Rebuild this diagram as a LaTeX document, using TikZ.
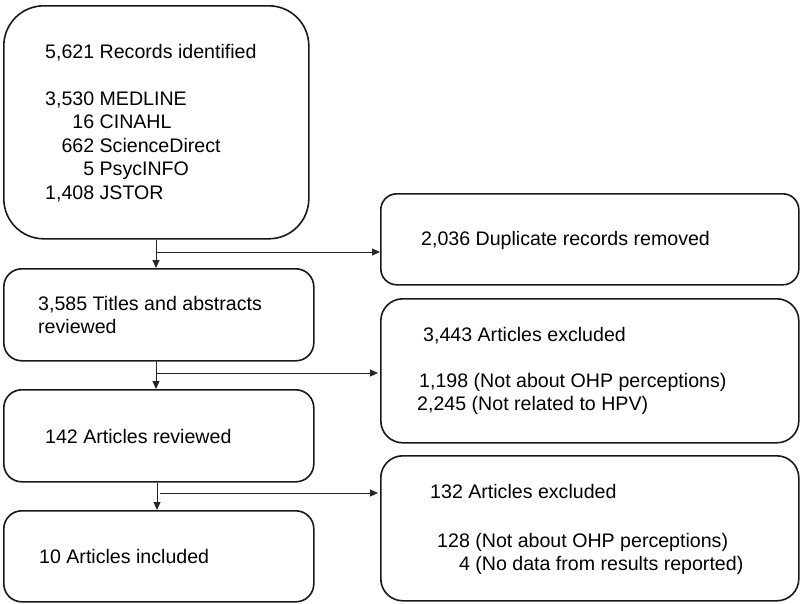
\documentclass[tikz,border=0pt]{standalone}
\usepackage{fontspec}
\setmainfont{Liberation Sans}
\usetikzlibrary{arrows.meta,calc}
\begin{document}
\begin{tikzpicture}[x=1pt,y=-1pt,
  box/.style={draw=black!90,line width=1.6pt,anchor=north west,inner sep=0pt,fill=white},
  txt/.style={anchor=base west,inner sep=0pt,font=\fontsize{19.6}{23.5}\selectfont,text=black},
  conn/.style={draw=black!85,line width=1pt},
  arr/.style={conn,-{Triangle[length=8pt,width=7pt]}}]
\useasboundingbox (0,0) rectangle (800,603);
% left column boxes
\node[box,rounded corners=40pt,minimum width=305pt,minimum height=233pt] (b1) at (3,5) {};
\node[box,rounded corners=18pt,minimum width=310pt,minimum height=92pt] (b2) at (3,268) {};
\node[box,rounded corners=18pt,minimum width=310pt,minimum height=92pt] (b3) at (3,389) {};
\node[box,rounded corners=18pt,minimum width=310pt,minimum height=91pt] (b4) at (3,510) {};
% right column boxes
\node[box,rounded corners=16pt,minimum width=418pt,minimum height=91pt] (r1) at (380,193) {};
\node[box,rounded corners=22pt,minimum width=418pt,minimum height=144pt] (r2) at (380,298) {};
\node[box,rounded corners=22pt,minimum width=418pt,minimum height=145pt] (r3) at (380,455) {};
% texts
\node[txt] (t1) at (45,58) {\begin{tabular}[t]{@{}r@{\ }l@{}}
\multicolumn{2}{@{}l@{}}{5,621 Records identified}\\[0pt]
 & \\
3,530 & MEDLINE\\
16 & CINAHL\\
662 & ScienceDirect\\
5 & PsycINFO\\
1,408 & JSTOR
\end{tabular}};
\node[txt] (t2) at (38,310) {\begin{tabular}[t]{@{}l@{}}3,585 Titles and abstracts\\reviewed\end{tabular}};
\node[txt] (t3) at (45,443) {142 Articles reviewed};
\node[txt] (t4) at (39,563) {10 Articles included};
\node[txt] (t5) at (421,245) {2,036 Duplicate records removed};
\node[txt] (t6) at (417,341) {\begin{tabular}[t]{@{}l@{}}\hspace{6pt}3,443 Articles excluded\\[-1pt]
\\
\hspace{2pt}1,198 (Not about OHP perceptions)\\
2,245 (Not related to HPV)\end{tabular}};
\node[txt] (t7) at (430,498) {\begin{tabular}[t]{@{}r@{\ }l@{}}
\multicolumn{2}{@{}l@{}}{132 Articles excluded}\\[2pt]
 & \\
\hspace{7pt}128 & (Not about OHP perceptions)\\
4 & (No data from results reported)
\end{tabular}};
% connectors
\coordinate (j1) at (156,252);
\coordinate (j2) at (156,373);
\coordinate (j3) at (160,493);
\draw[arr] (b1.south -| j1) -- (j1 |- b2.north);
\draw[arr] (j1) -- (j1 -| r1.west);
\draw[arr] (b2.south -| j2) -- (j2 |- b3.north);
\draw[arr] (j2) -- ($(j2 -| r2.west)+(-2,0)$);
\draw[arr] (b3.south -| 157,0) -- (157,0 |- b4.north);
\draw[arr] (j3) -- ($(j3 -| r3.west)+(-2,0)$);
\end{tikzpicture}
\end{document}
